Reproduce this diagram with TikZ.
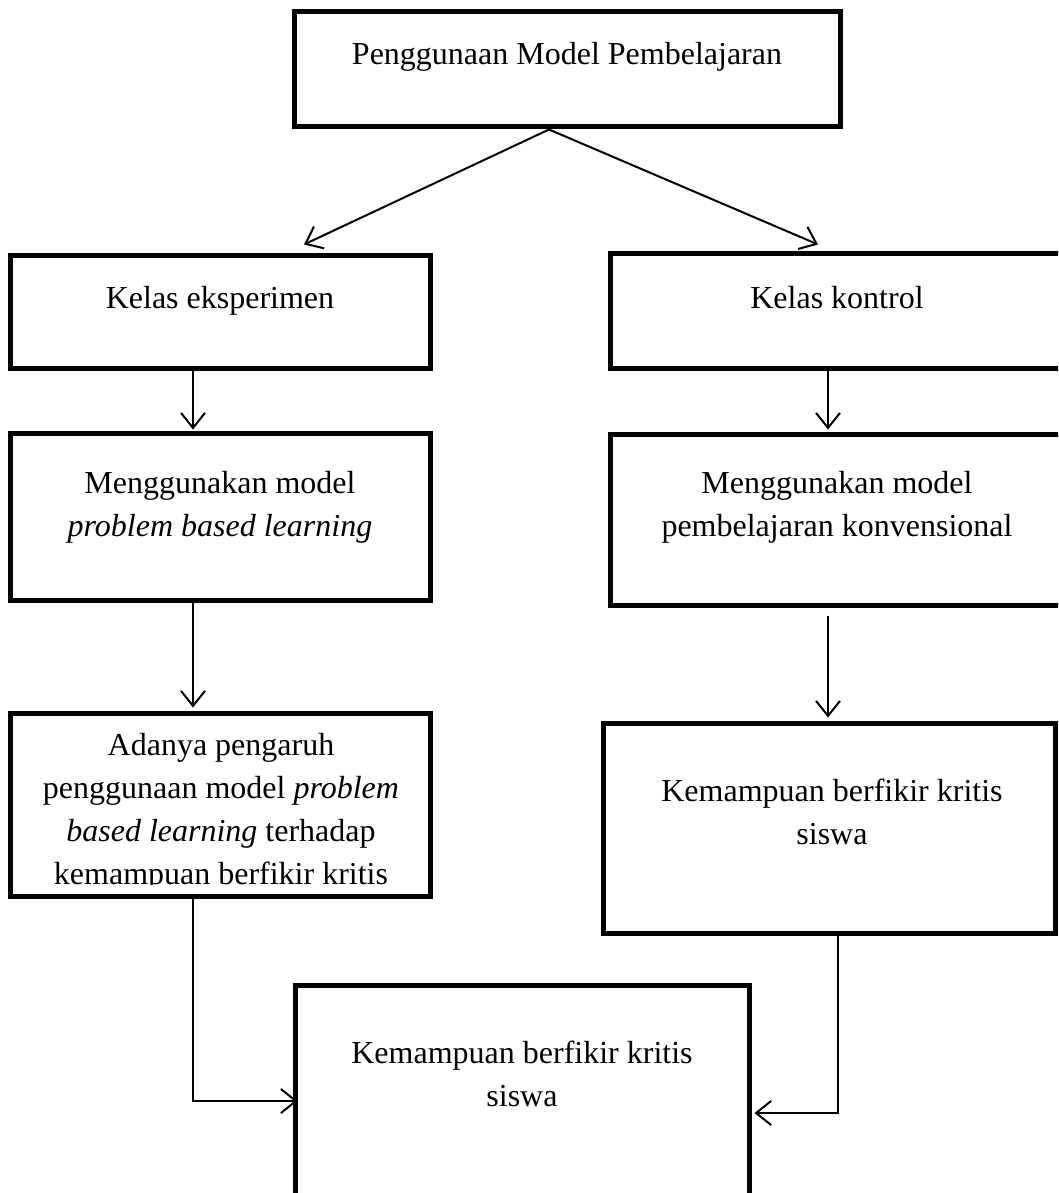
\documentclass[tikz,border=0pt]{standalone}
\usepackage{fontspec}
\setmainfont{Liberation Serif}
\usetikzlibrary{arrows.meta}
\newcommand{\mlines}[1]{\begin{tabular}[t]{@{}c@{}}#1\end{tabular}}
\begin{document}
\begin{tikzpicture}[x=1pt,y=-1pt,
  box/.style={draw=black, line width=5pt, rectangle, inner sep=0pt},
  txt/.style={inner sep=0pt, anchor=base, font=\fontsize{32}{43}\selectfont},
  arr/.style={line width=2pt, -{Straight Barb[length=15pt,width=24pt]}}]
\clip (0,0) rectangle (1058,1193);
\fill[white] (0,0) rectangle (1058,1193);
% boxes
\node[box, minimum width=546pt, minimum height=115pt] (T) at (567,69.5) {};
\node[box, minimum width=420pt, minimum height=113pt] (E) at (220,311.5) {};
\node[box, minimum width=454pt, minimum height=115pt] (K) at (837,310.5) {};
\node[box, minimum width=420pt, minimum height=167pt] (M) at (220,516.5) {};
\node[box, minimum width=454pt, minimum height=171pt] (N) at (837,519.5) {};
\node[box, minimum width=420pt, minimum height=183pt] (A) at (220,804.5) {};
\node[box, minimum width=452pt, minimum height=210pt] (R) at (829,828) {};
\node[box, minimum width=454pt, minimum height=275pt] (B) at (522,1122.5) {};
% texts
\node[txt] (Tt) at (567,65) {Penggunaan Model Pembelajaran};
\node[txt] (Et) at (220,308) {Kelas eksperimen};
\node[txt] (Kt) at (837,308) {Kelas kontrol};
\node[txt] (Mt) at (220,493) {\mlines{Menggunakan model\\\textit{problem based learning}}};
\node[txt] (Nt) at (837,493) {\mlines{Menggunakan model\\pembelajaran konvensional}};
\begin{scope}
\clip (12,716) rectangle (428,884);
\node[txt] (At) at (221,755) {\mlines{Adanya pengaruh\\penggunaan model \textit{problem}\\\textit{based learning} terhadap\\kemampuan berfikir kritis}};
\end{scope}
\node[txt] (Rt) at (832,801) {\mlines{Kemampuan berfikir kritis\\siswa}};
\node[txt] (Bt) at (522,1063) {\mlines{Kemampuan berfikir kritis\\siswa}};
% connectors
\draw[arr] ([xshift=-18pt]T.south) -- ([xshift=84pt,yshift=8pt]E.north);
\draw[arr] ([xshift=-18pt]T.south) -- ([xshift=-19pt,yshift=6pt]K.north);
\draw[arr] ([xshift=-27pt]E.south) -- ([xshift=-27pt,yshift=1pt]M.north);
\draw[arr] ([xshift=-9pt]K.south) -- ([xshift=-9pt,yshift=2pt]N.north);
\draw[arr] ([xshift=-27pt]M.south) -- ([xshift=-27pt,yshift=3pt]A.north);
\draw[arr] ([xshift=-9pt,yshift=-8pt]N.south) -- ([xshift=-1pt,yshift=3pt]R.north);
\draw[arr] ([xshift=-27pt]A.south) |- ([xshift=5pt,yshift=21.5pt]B.west);
\draw[arr] ([xshift=9pt]R.south) |- ([xshift=3pt,yshift=9.5pt]B.east);
\end{tikzpicture}
\end{document}
